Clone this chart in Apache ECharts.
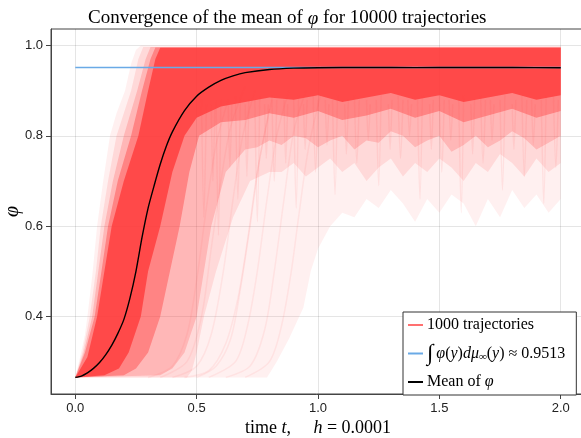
<!DOCTYPE html>
<html>
<head>
<meta charset="utf-8">
<script src="https://cdn.jsdelivr.net/npm/echarts@6/dist/echarts.min.js"></script>
<style>
  html, body { margin: 0; padding: 0; background: #fff; }
  #chart { width: 581px; height: 438px; }
</style>
</head>
<body>
<div id="chart"></div>
<script>
// 轴刻度
const xTicks = [0, 0.5, 1.0, 1.5, 2.0]
const yTicks = [0.4, 0.6, 0.8, 1.0]

// 平均值曲线
const meanT = [0, 0.025, 0.05, 0.075, 0.1, 0.125, 0.15, 0.175, 0.2, 0.225, 0.25, 0.275, 0.3, 0.325, 0.35, 0.375, 0.4, 0.45, 0.5, 0.55, 0.6, 0.65, 0.7, 0.8, 0.9, 1.0, 1.2, 1.4, 1.6, 1.8, 2.0]
const meanV = [0.265, 0.268, 0.275, 0.285, 0.298, 0.315, 0.336, 0.362, 0.393, 0.44, 0.50, 0.575, 0.64, 0.69, 0.737, 0.777, 0.809, 0.856, 0.888, 0.908, 0.923, 0.933, 0.940, 0.947, 0.950, 0.951, 0.9515, 0.9512, 0.9515, 0.9513, 0.951]

// 极限值
const limitValue = 0.9513
const limitT = [0, 2.0]

// 轨迹密度带 (从淡到浓), 每个是一圈 [t, φ]
const bandFaint = [
  [0, 0.265], [0.02, 0.31], [0.04, 0.36], [0.05, 0.40], [0.07, 0.49], [0.09, 0.60], [0.115, 0.70], [0.143, 0.80],
  [0.17, 0.85], [0.205, 0.90], [0.23, 0.96], [0.25, 0.99], [0.27, 1.0], [2.0, 1.0],
  [2.0, 0.66], [1.95, 0.63], [1.9, 0.67], [1.85, 0.64], [1.8, 0.68], [1.75, 0.62], [1.7, 0.66], [1.65, 0.60],
  [1.6, 0.65], [1.55, 0.67], [1.5, 0.63], [1.45, 0.66], [1.4, 0.61], [1.35, 0.65], [1.3, 0.68], [1.25, 0.64],
  [1.2, 0.66], [1.15, 0.62], [1.1, 0.63], [1.05, 0.60], [1.0, 0.55], [0.97, 0.50], [0.94, 0.42], [0.88, 0.35],
  [0.83, 0.30], [0.79, 0.265], [0, 0.265]
]
const bandLight = [
  [0, 0.265], [0.03, 0.32], [0.06, 0.40], [0.085, 0.50], [0.105, 0.60], [0.135, 0.70], [0.17, 0.80], [0.23, 0.90],
  [0.26, 0.97], [0.28, 0.997], [2.0, 0.998],
  [2.0, 0.74], [1.95, 0.72], [1.9, 0.75], [1.85, 0.71], [1.8, 0.74], [1.75, 0.76], [1.7, 0.72], [1.65, 0.74],
  [1.6, 0.70], [1.55, 0.73], [1.5, 0.75], [1.45, 0.72], [1.4, 0.74], [1.35, 0.71], [1.3, 0.75], [1.25, 0.73],
  [1.2, 0.70], [1.15, 0.74], [1.1, 0.72], [1.05, 0.75], [1.0, 0.73], [0.95, 0.71], [0.9, 0.74], [0.85, 0.72],
  [0.8, 0.72], [0.72, 0.70], [0.65, 0.62], [0.58, 0.50], [0.53, 0.40], [0.50, 0.32], [0.48, 0.28], [0.46, 0.265],
  [0, 0.265]
]
const bandMid = [
  [0, 0.265], [0.035, 0.32], [0.07, 0.40], [0.095, 0.50], [0.12, 0.60], [0.155, 0.70], [0.2, 0.80], [0.255, 0.90],
  [0.29, 0.97], [0.31, 0.997], [2.0, 0.997],
  [2.0, 0.80], [1.95, 0.785], [1.9, 0.77], [1.85, 0.795], [1.8, 0.81], [1.75, 0.79], [1.7, 0.775], [1.65, 0.80],
  [1.6, 0.78], [1.55, 0.765], [1.5, 0.80], [1.45, 0.79], [1.4, 0.775], [1.35, 0.80], [1.3, 0.81], [1.25, 0.785],
  [1.2, 0.79], [1.15, 0.77], [1.1, 0.80], [1.05, 0.79], [1.0, 0.775], [0.95, 0.795], [0.9, 0.80], [0.85, 0.78],
  [0.8, 0.79], [0.75, 0.775], [0.7, 0.77], [0.62, 0.72], [0.56, 0.60], [0.53, 0.50], [0.50, 0.40], [0.45, 0.32],
  [0.40, 0.285], [0.35, 0.27], [0, 0.265]
]
const bandDense = [
  [0, 0.265], [0.04, 0.32], [0.08, 0.40], [0.108, 0.50], [0.135, 0.60], [0.175, 0.70], [0.23, 0.80], [0.275, 0.90],
  [0.31, 0.97], [0.33, 0.996], [2.0, 0.996],
  [2.0, 0.855], [1.9, 0.84], [1.8, 0.86], [1.7, 0.845], [1.6, 0.83], [1.5, 0.855], [1.4, 0.84], [1.3, 0.86],
  [1.2, 0.845], [1.1, 0.835], [1.0, 0.855], [0.9, 0.84], [0.8, 0.85], [0.7, 0.835], [0.6, 0.83], [0.51, 0.80],
  [0.47, 0.72], [0.43, 0.60], [0.39, 0.50], [0.35, 0.40], [0.30, 0.32], [0.25, 0.285], [0.20, 0.27], [0, 0.265]
]
const bandCore = [
  [0, 0.265], [0.05, 0.31], [0.09, 0.40], [0.12, 0.50], [0.15, 0.60], [0.20, 0.70], [0.26, 0.80], [0.30, 0.90],
  [0.33, 0.97], [0.35, 0.995], [2.0, 0.995],
  [2.0, 0.89], [1.9, 0.88], [1.8, 0.895], [1.7, 0.885], [1.6, 0.875], [1.5, 0.89], [1.4, 0.88], [1.3, 0.895],
  [1.2, 0.885], [1.1, 0.875], [1.0, 0.89], [0.9, 0.88], [0.8, 0.885], [0.7, 0.875], [0.6, 0.865], [0.5, 0.84],
  [0.45, 0.80], [0.40, 0.72], [0.35, 0.60], [0.30, 0.50], [0.27, 0.40], [0.22, 0.32], [0.18, 0.285], [0.12, 0.27],
  [0, 0.265]
]

// 向下的细纹 (稳定后偶尔的下探)
const dipStrands = [
  [[0.52, 0.88], [0.53, 0.62], [0.54, 0.87]],
  [[0.56, 0.87], [0.567, 0.70], [0.575, 0.86]],
  [[0.58, 0.88], [0.59, 0.58], [0.60, 0.88]],
  [[0.63, 0.87], [0.637, 0.73], [0.645, 0.87]],
  [[0.66, 0.89], [0.67, 0.66], [0.68, 0.88]],
  [[0.70, 0.87], [0.707, 0.71], [0.715, 0.88]],
  [[0.74, 0.88], [0.75, 0.61], [0.76, 0.89]],
  [[0.78, 0.87], [0.787, 0.75], [0.795, 0.87]],
  [[0.81, 0.89], [0.82, 0.70], [0.83, 0.88]],
  [[0.86, 0.88], [0.867, 0.74], [0.875, 0.87]],
  [[0.90, 0.88], [0.91, 0.64], [0.92, 0.89]],
  [[0.94, 0.87], [0.947, 0.77], [0.955, 0.88]],
  [[0.98, 0.89], [0.99, 0.72], [1.00, 0.88]],
  [[1.03, 0.88], [1.037, 0.78], [1.045, 0.87]],
  [[1.06, 0.88], [1.07, 0.67], [1.08, 0.89]],
  [[1.11, 0.87], [1.117, 0.76], [1.125, 0.88]],
  [[1.15, 0.89], [1.16, 0.74], [1.17, 0.88]],
  [[1.20, 0.88], [1.207, 0.79], [1.215, 0.87]],
  [[1.24, 0.88], [1.25, 0.69], [1.26, 0.89]],
  [[1.29, 0.87], [1.297, 0.77], [1.305, 0.88]],
  [[1.33, 0.89], [1.34, 0.75], [1.35, 0.88]],
  [[1.37, 0.88], [1.377, 0.80], [1.385, 0.87]],
  [[1.41, 0.88], [1.42, 0.66], [1.43, 0.89]],
  [[1.46, 0.87], [1.467, 0.77], [1.475, 0.88]],
  [[1.50, 0.89], [1.51, 0.72], [1.52, 0.88]],
  [[1.54, 0.88], [1.547, 0.79], [1.555, 0.87]],
  [[1.58, 0.88], [1.59, 0.63], [1.60, 0.89]],
  [[1.63, 0.87], [1.637, 0.76], [1.645, 0.88]],
  [[1.67, 0.89], [1.68, 0.74], [1.69, 0.88]],
  [[1.71, 0.88], [1.717, 0.79], [1.725, 0.87]],
  [[1.75, 0.88], [1.76, 0.68], [1.77, 0.89]],
  [[1.80, 0.87], [1.807, 0.77], [1.815, 0.88]],
  [[1.84, 0.89], [1.85, 0.71], [1.86, 0.88]],
  [[1.88, 0.88], [1.887, 0.78], [1.895, 0.87]],
  [[1.92, 0.88], [1.93, 0.65], [1.94, 0.89]],
  [[1.97, 0.89], [1.98, 0.73], [1.99, 0.88]]
]

// 晚出发的轨迹
const lateStrands = [
  [[0.30, 0.265], [0.40, 0.29], [0.46, 0.36], [0.50, 0.48], [0.54, 0.64], [0.58, 0.78], [0.63, 0.88]],
  [[0.40, 0.265], [0.50, 0.29], [0.56, 0.36], [0.61, 0.50], [0.65, 0.66], [0.69, 0.80], [0.74, 0.90]],
  [[0.50, 0.265], [0.58, 0.29], [0.64, 0.35], [0.68, 0.46], [0.72, 0.60], [0.76, 0.75], [0.81, 0.88]],
  [[0.55, 0.265], [0.66, 0.30], [0.71, 0.38], [0.75, 0.50], [0.79, 0.66], [0.83, 0.80], [0.88, 0.90]],
  [[0.62, 0.265], [0.72, 0.29], [0.78, 0.37], [0.82, 0.50], [0.86, 0.66], [0.90, 0.81], [0.95, 0.90]],
  [[0.70, 0.265], [0.80, 0.30], [0.85, 0.38], [0.89, 0.50], [0.92, 0.62], [0.96, 0.77], [1.01, 0.89]],
  [[0.35, 0.265], [0.46, 0.30], [0.52, 0.40], [0.56, 0.55], [0.60, 0.70], [0.64, 0.82], [0.70, 0.91]],
  [[0.45, 0.265], [0.55, 0.28], [0.62, 0.34], [0.67, 0.44], [0.71, 0.57], [0.75, 0.72], [0.80, 0.86]]
]

const bands = [bandFaint, bandLight, bandMid, bandDense, bandCore]
const bandAlpha = [0.08, 0.13, 0.225, 0.435, 0.86]

const chart = echarts.init(document.getElementById('chart'), null, { renderer: 'canvas' })

const serif = 'Liberation Serif'
const sans = 'Liberation Sans'

const strandSeries = (list, color, width) => list.map(s => ({
  type: 'line',
  data: s,
  symbol: 'none',
  smooth: 0.3,
  silent: true,
  lineStyle: { color: color, width: width },
  z: 2
}))

const option = {
  animation: false,
  title: {
    text: 'Convergence of the mean of {i|φ} for 10000 trajectories',
    left: 83,
    top: 4,
    textStyle: {
      fontFamily: serif,
      fontSize: 19,
      fontWeight: 'normal',
      color: '#000',
      rich: {
        i: { fontFamily: serif, fontStyle: 'italic', fontSize: 19, color: '#000' }
      }
    }
  },
  grid: {
    left: 51,
    top: 29,
    width: 534,
    height: 365,
    containLabel: false,
    outerBoundsMode: 'none',
    show: true,
    borderColor: '#444',
    borderWidth: 1
  },
  legend: {
    orient: 'vertical',
    left: 403,
    top: 312,
    padding: [5, 11, 5, 5],
    itemGap: 9,
    itemWidth: 15,
    itemHeight: 2,
    icon: 'rect',
    backgroundColor: '#fff',
    borderColor: '#333',
    borderWidth: 1,
    borderRadius: 0,
    data: ['1000 trajectories', 'limit', 'mean'],
    formatter: function (name) {
      if (name === 'limit') return '{b|∫}{i|φ}{r|(}{i|y}{r|)}{i|dμ}{s|∞}{r|(}{i|y}{r|) ≈ 0.9513}'
      if (name === 'mean') return '{r|Mean of }{i|φ}'
      return '{r|' + name + '}'
    },
    textStyle: {
      fontFamily: serif,
      fontSize: 16,
      color: '#000',
      padding: [0, 0, 0, -1],
      rich: {
        r: { fontFamily: serif, fontSize: 16, color: '#000', height: 18 },
        i: { fontFamily: serif, fontSize: 16, fontStyle: 'italic', color: '#000', height: 18 },
        b: { fontFamily: serif, fontSize: 23, color: '#000', height: 18, padding: [0, 3, 0, 0] },
        s: { fontFamily: serif, fontSize: 11, fontStyle: 'italic', color: '#000', verticalAlign: 'bottom', padding: [7, 0, 0, 0] }
      }
    }
  },
  xAxis: {
    type: 'value',
    min: -0.1,
    max: 2.1,
    name: '{r|time }{i|t}{r|,     }{i|h}{r| = 0.0001}',
    nameLocation: 'middle',
    nameGap: 25,
    nameMoveOverlap: false,
    nameTextStyle: {
      rich: {
        r: { fontFamily: serif, fontSize: 18, color: '#000' },
        i: { fontFamily: serif, fontSize: 18, fontStyle: 'italic', color: '#000' }
      }
    },
    axisLine: { show: true, onZero: false, lineStyle: { color: '#444', width: 1 } },
    axisTick: { show: true, length: 5, customValues: xTicks, lineStyle: { color: '#444' } },
    axisLabel: {
      customValues: xTicks,
      margin: 8,
      fontFamily: sans,
      fontSize: 13,
      color: '#222',
      formatter: v => v.toFixed(1)
    },
    splitLine: { show: true, lineStyle: { color: 'rgba(0,0,0,0.1)', width: 1 } }
  },
  yAxis: {
    type: 'value',
    min: 0.2283,
    max: 1.0367,
    name: 'φ',
    nameLocation: 'middle',
    nameGap: 28,
    nameRotate: 90,
    nameMoveOverlap: false,
    nameTextStyle: { fontFamily: serif, fontSize: 20, fontStyle: 'italic', color: '#000' },
    axisLine: { show: true, onZero: false, lineStyle: { color: '#444', width: 1 } },
    axisTick: { show: true, length: 5, customValues: yTicks, lineStyle: { color: '#444' } },
    axisLabel: {
      customValues: yTicks,
      margin: 8,
      fontFamily: sans,
      fontSize: 13,
      color: '#222',
      formatter: v => v.toFixed(1)
    },
    splitLine: { show: true, lineStyle: { color: 'rgba(0,0,0,0.1)', width: 1 } }
  },
  series: [
    {
      name: '1000 trajectories',
      type: 'custom',
      coordinateSystem: 'cartesian2d',
      itemStyle: { color: '#ff7070' },
      data: bands.map(() => [0, 0.5]),
      renderItem: function (params, api) {
        const pts = bands[params.dataIndex].map(p => api.coord(p))
        return {
          type: 'polygon',
          shape: { points: pts },
          style: { fill: 'rgba(255,64,64,' + bandAlpha[params.dataIndex] + ')' }
        }
      },
      z: 1
    },
    ...strandSeries(dipStrands, 'rgba(255,64,64,0.09)', 1.5),
    ...strandSeries(lateStrands, 'rgba(255,64,64,0.08)', 1.5),
    {
      name: 'limit',
      type: 'line',
      data: limitT.map(t => [t, limitValue]),
      symbol: 'none',
      lineStyle: { color: '#6aaae6', width: 1.6 },
      itemStyle: { color: '#6aaae6' },
      z: 3
    },
    {
      name: 'mean',
      type: 'line',
      data: meanT.map((t, i) => [t, meanV[i]]),
      symbol: 'none',
      smooth: 0.2,
      lineStyle: { color: '#000', width: 1.4 },
      itemStyle: { color: '#000' },
      z: 4
    }
  ]
}

chart.setOption(option)
</script>
</body>
</html>
